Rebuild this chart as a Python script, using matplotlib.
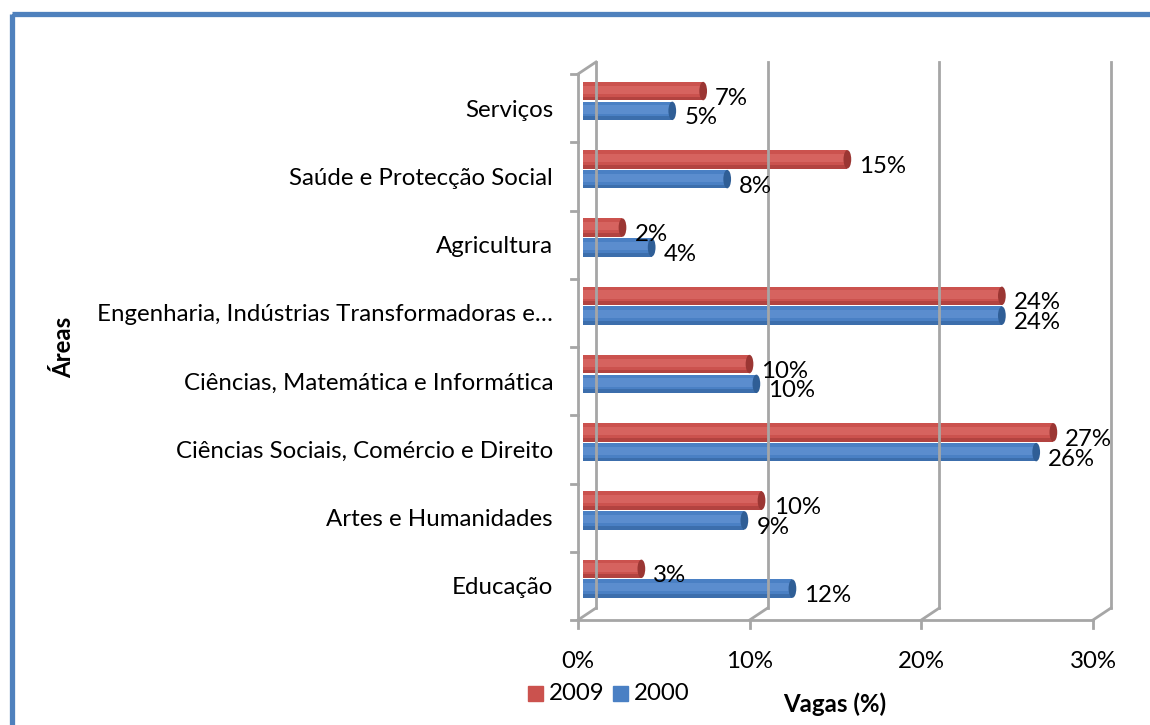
import matplotlib
matplotlib.use("Agg")
import matplotlib.pyplot as plt
import matplotlib.transforms as mtransforms
from matplotlib.patches import Rectangle, Ellipse

plt.rcParams['font.family'] = ['Lato', 'DejaVu Sans']

areas = ['Educação', 'Artes e Humanidades', 'Ciências Sociais, Comércio e Direito',
         'Ciências, Matemática e Informática', 'Engenharia, Indústrias Transformadoras e…',
         'Agricultura', 'Saúde e Protecção Social', 'Serviços']
vagas_2009 = [3.4, 10.4, 27.4, 9.7, 24.4, 2.3, 15.4, 7.0]
vagas_2000 = [12.2, 9.4, 26.4, 10.1, 24.4, 4.0, 8.4, 5.2]
xticks = [0, 10, 20, 30]

red, red_hi, red_dk = '#CB524E', '#DE6F6C', '#9B3633'
blue, blue_hi, blue_dk = '#4A80C4', '#6797D6', '#2F5E96'
grid = '#A6A6A6'
fs = 17.3

W, H = 1150, 725
fig = plt.figure(figsize=(W / 100, H / 100), dpi=100)

# blue frame around the chart (runs off the right and bottom edge)
fig.patches.append(Rectangle((12 / W, 1 - 13.5 / H), 2, -2, transform=fig.transFigure,
                             fill=False, edgecolor='#4F81BD', linewidth=3.8))

ax = fig.add_axes([578 / W, (H - 620) / H, 515 / W, 546 / H])
ax.set_xlim(0, 30)
ax.set_ylim(-0.5, len(areas) - 0.5)
for s in ax.spines.values():
    s.set_visible(False)
ax.patch.set_visible(False)

def shift(dx, dy):
    return mtransforms.offset_copy(ax.transData, fig, x=dx, y=dy, units='dots')

back = shift(18, 12)
top = len(areas) - 0.5

def fig_line(p0, p1):
    fig.add_artist(plt.Line2D([p0[0] / W, p1[0] / W], [p0[1] / H, p1[1] / H],
                              color=grid, lw=2, transform=fig.transFigure))

# walls and floor of the 3D box
ax.plot([0, 0], [-0.5, top], color=grid, lw=2, clip_on=False)
for v in xticks:
    ax.plot([v, v], [-0.5, top], color=grid, lw=2, transform=back, clip_on=False)
    p0 = ax.transData.transform((v, -0.5))
    fig_line(p0, back.transform((v, -0.5)))
    fig_line(p0, (p0[0], p0[1] - 8))
fig_line(ax.transData.transform((0, top)), back.transform((0, top)))
ax.plot([0, 30], [-0.5, -0.5], color=grid, lw=2, clip_on=False)
for k in range(len(areas) + 1):
    p = ax.transData.transform((0, k - 0.5))
    fig_line((p[0] - 7, p[1]), p)

# bars (cylinder look)
bar_tr = shift(5, 0)
h = 0.27
for vals, off, c, hi, dk in [(vagas_2009, 0.25, red, red_hi, red_dk),
                             (vagas_2000, -0.04, blue, blue_hi, blue_dk)]:
    ys = [i + off for i in range(len(areas))]
    ax.barh(ys, vals, height=h, color=c, edgecolor='none', transform=bar_tr, clip_on=False)
    ax.barh([y + 0.02 for y in ys], vals, height=h * 0.45, color=hi, alpha=0.6,
            edgecolor='none', transform=bar_tr, clip_on=False)
    ax.barh([y - h * 0.4 for y in ys], vals, height=h * 0.2, color=dk, alpha=0.5,
            edgecolor='none', transform=bar_tr, clip_on=False)
    for v, y in zip(vals, ys):
        ax.add_patch(Ellipse((v, y), 0.45, h, facecolor=dk, edgecolor='none',
                             transform=bar_tr, clip_on=False))
        ax.text(v, y, f'{v:.0f}%', fontsize=fs, ha='left', va='center',
                transform=shift(17, -7), clip_on=False)

ax.set_yticks(range(len(areas)))
ax.set_yticklabels(areas, fontsize=fs)
ax.set_xticks(xticks)
ax.set_xticklabels([f'{v}%' for v in xticks], fontsize=fs)
ax.tick_params(axis='y', length=0, pad=18)
ax.tick_params(axis='x', length=0, pad=22)

fig.text(64 / W, 1 - 347 / H, 'Áreas', rotation=90, fontsize=fs, fontweight='bold',
         ha='center', va='center')
fig.text(835 / W, 1 - 704 / H, 'Vagas (%)', fontsize=fs, fontweight='bold',
         ha='center', va='center')

# legend
for x0, c, lab in [(528, red, '2009'), (613, blue, '2000')]:
    fig.patches.append(Rectangle((x0 / W, 1 - 701 / H), 15 / W, 15 / H,
                                 transform=fig.transFigure, color=c))
    fig.text((x0 + 21) / W, 1 - 693 / H, lab, fontsize=fs, ha='left', va='center')

fig.savefig('out.png', dpi=100)
